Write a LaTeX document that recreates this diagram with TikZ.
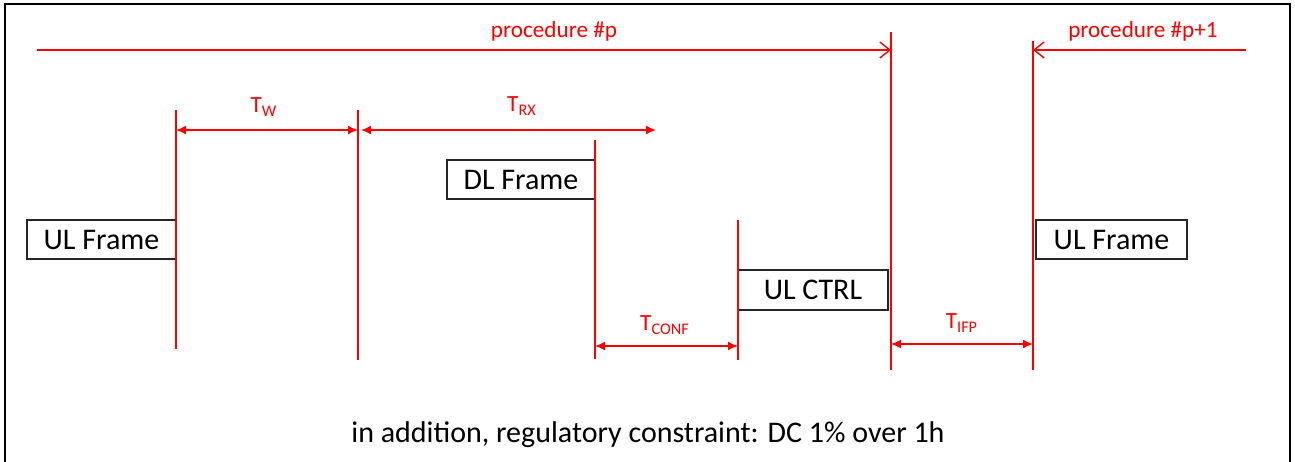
\documentclass[tikz,border=0pt]{standalone}
\usepackage{fontspec}
\setmainfont{Carlito}
\usetikzlibrary{arrows.meta}

\begin{document}
\begin{tikzpicture}[x=0.5pt,y=-0.5pt]
\tikzset{
  framebox/.style={draw=black!85,line width=0.75pt,fill=white,inner sep=0pt,
    minimum height=19.5pt,font=\fontsize{15}{18}\selectfont},
  redlabel/.style={text=red,inner sep=1pt,font=\fontsize{11.6}{14}\selectfont},
  timeline/.style={draw=red,line width=0.7pt},
  span/.style={draw=red,line width=0.8pt,{Latex[length=5pt,width=4.5pt]}-{Latex[length=5pt,width=4.5pt]}},
  proc/.style={draw=red,line width=0.7pt,-{Straight Barb[length=5pt,width=8pt]}}
}
\useasboundingbox (0,0) rectangle (1295,461);
\draw[line width=1.1pt] (5,462) -- (5,4) -- (1290,4) -- (1290,462);
% frames
\node[framebox,minimum width=74.5pt] (ulf) at (101.5,239.5) {UL Frame};
\node[framebox,minimum width=74pt] (dlf) at (521,179.5) {DL Frame};
\node[framebox,minimum width=75pt,minimum height=20pt] (ulc) at (813,290) {UL CTRL};
\node[framebox,minimum width=75.5pt] (ulf2) at (1111.5,239.5) {UL Frame};
% time marks
\coordinate (m1a) at (176,110);  \coordinate (m1b) at (176,349);
\coordinate (m2a) at (358,110);  \coordinate (m2b) at (358,360);
\coordinate (m3a) at (595,140);  \coordinate (m3b) at (595,359);
\coordinate (m4a) at (738,220);  \coordinate (m4b) at (738,360);
\coordinate (m5a) at (891,32);   \coordinate (m5b) at (891,370);
\coordinate (m6a) at (1033,41);  \coordinate (m6b) at (1033,370);
\foreach \m in {1,...,6}
  \draw[timeline] (m\m a) -- (m\m b);
% procedures
\coordinate (pstart) at (37,50);
\coordinate (pend) at (891,50);
\coordinate (qstart) at (1246,50);
\coordinate (qend) at (1033,50);
\draw[proc] (pstart) -- (pend);
\draw[proc] (qstart) -- (qend);
\node[redlabel] (procp) at (554,31) {procedure \#p};
\node[redlabel] (procq) at (1143,31) {procedure \#p+1};
% durations
\coordinate (tw1) at (176,130);   \coordinate (tw2) at (358,130);
\coordinate (trx1) at (361,130);  \coordinate (trx2) at (656,130);
\coordinate (tc1) at (595,346);   \coordinate (tc2) at (738,346);
\coordinate (ti1) at (891,344);   \coordinate (ti2) at (1033,344);
\draw[span] (tw1) -- (tw2);
\draw[span] (trx1) -- (trx2);
\draw[span] (tc1) -- (tc2);
\draw[span] (ti1) -- (ti2);
\node[redlabel] (tw) at (264,107) {T\textsubscript{W}};
\node[redlabel] (trx) at (522,106) {T\textsubscript{RX}};
\node[redlabel] (tconf) at (665,325) {T\textsubscript{CONF}};
\node[redlabel] (tifp) at (962,323) {T\textsubscript{IFP}};
\node[font=\fontsize{15}{18}\selectfont] (note) at (648,435) {in addition, regulatory constraint: DC 1\% over 1h};
\end{tikzpicture}
\end{document}
